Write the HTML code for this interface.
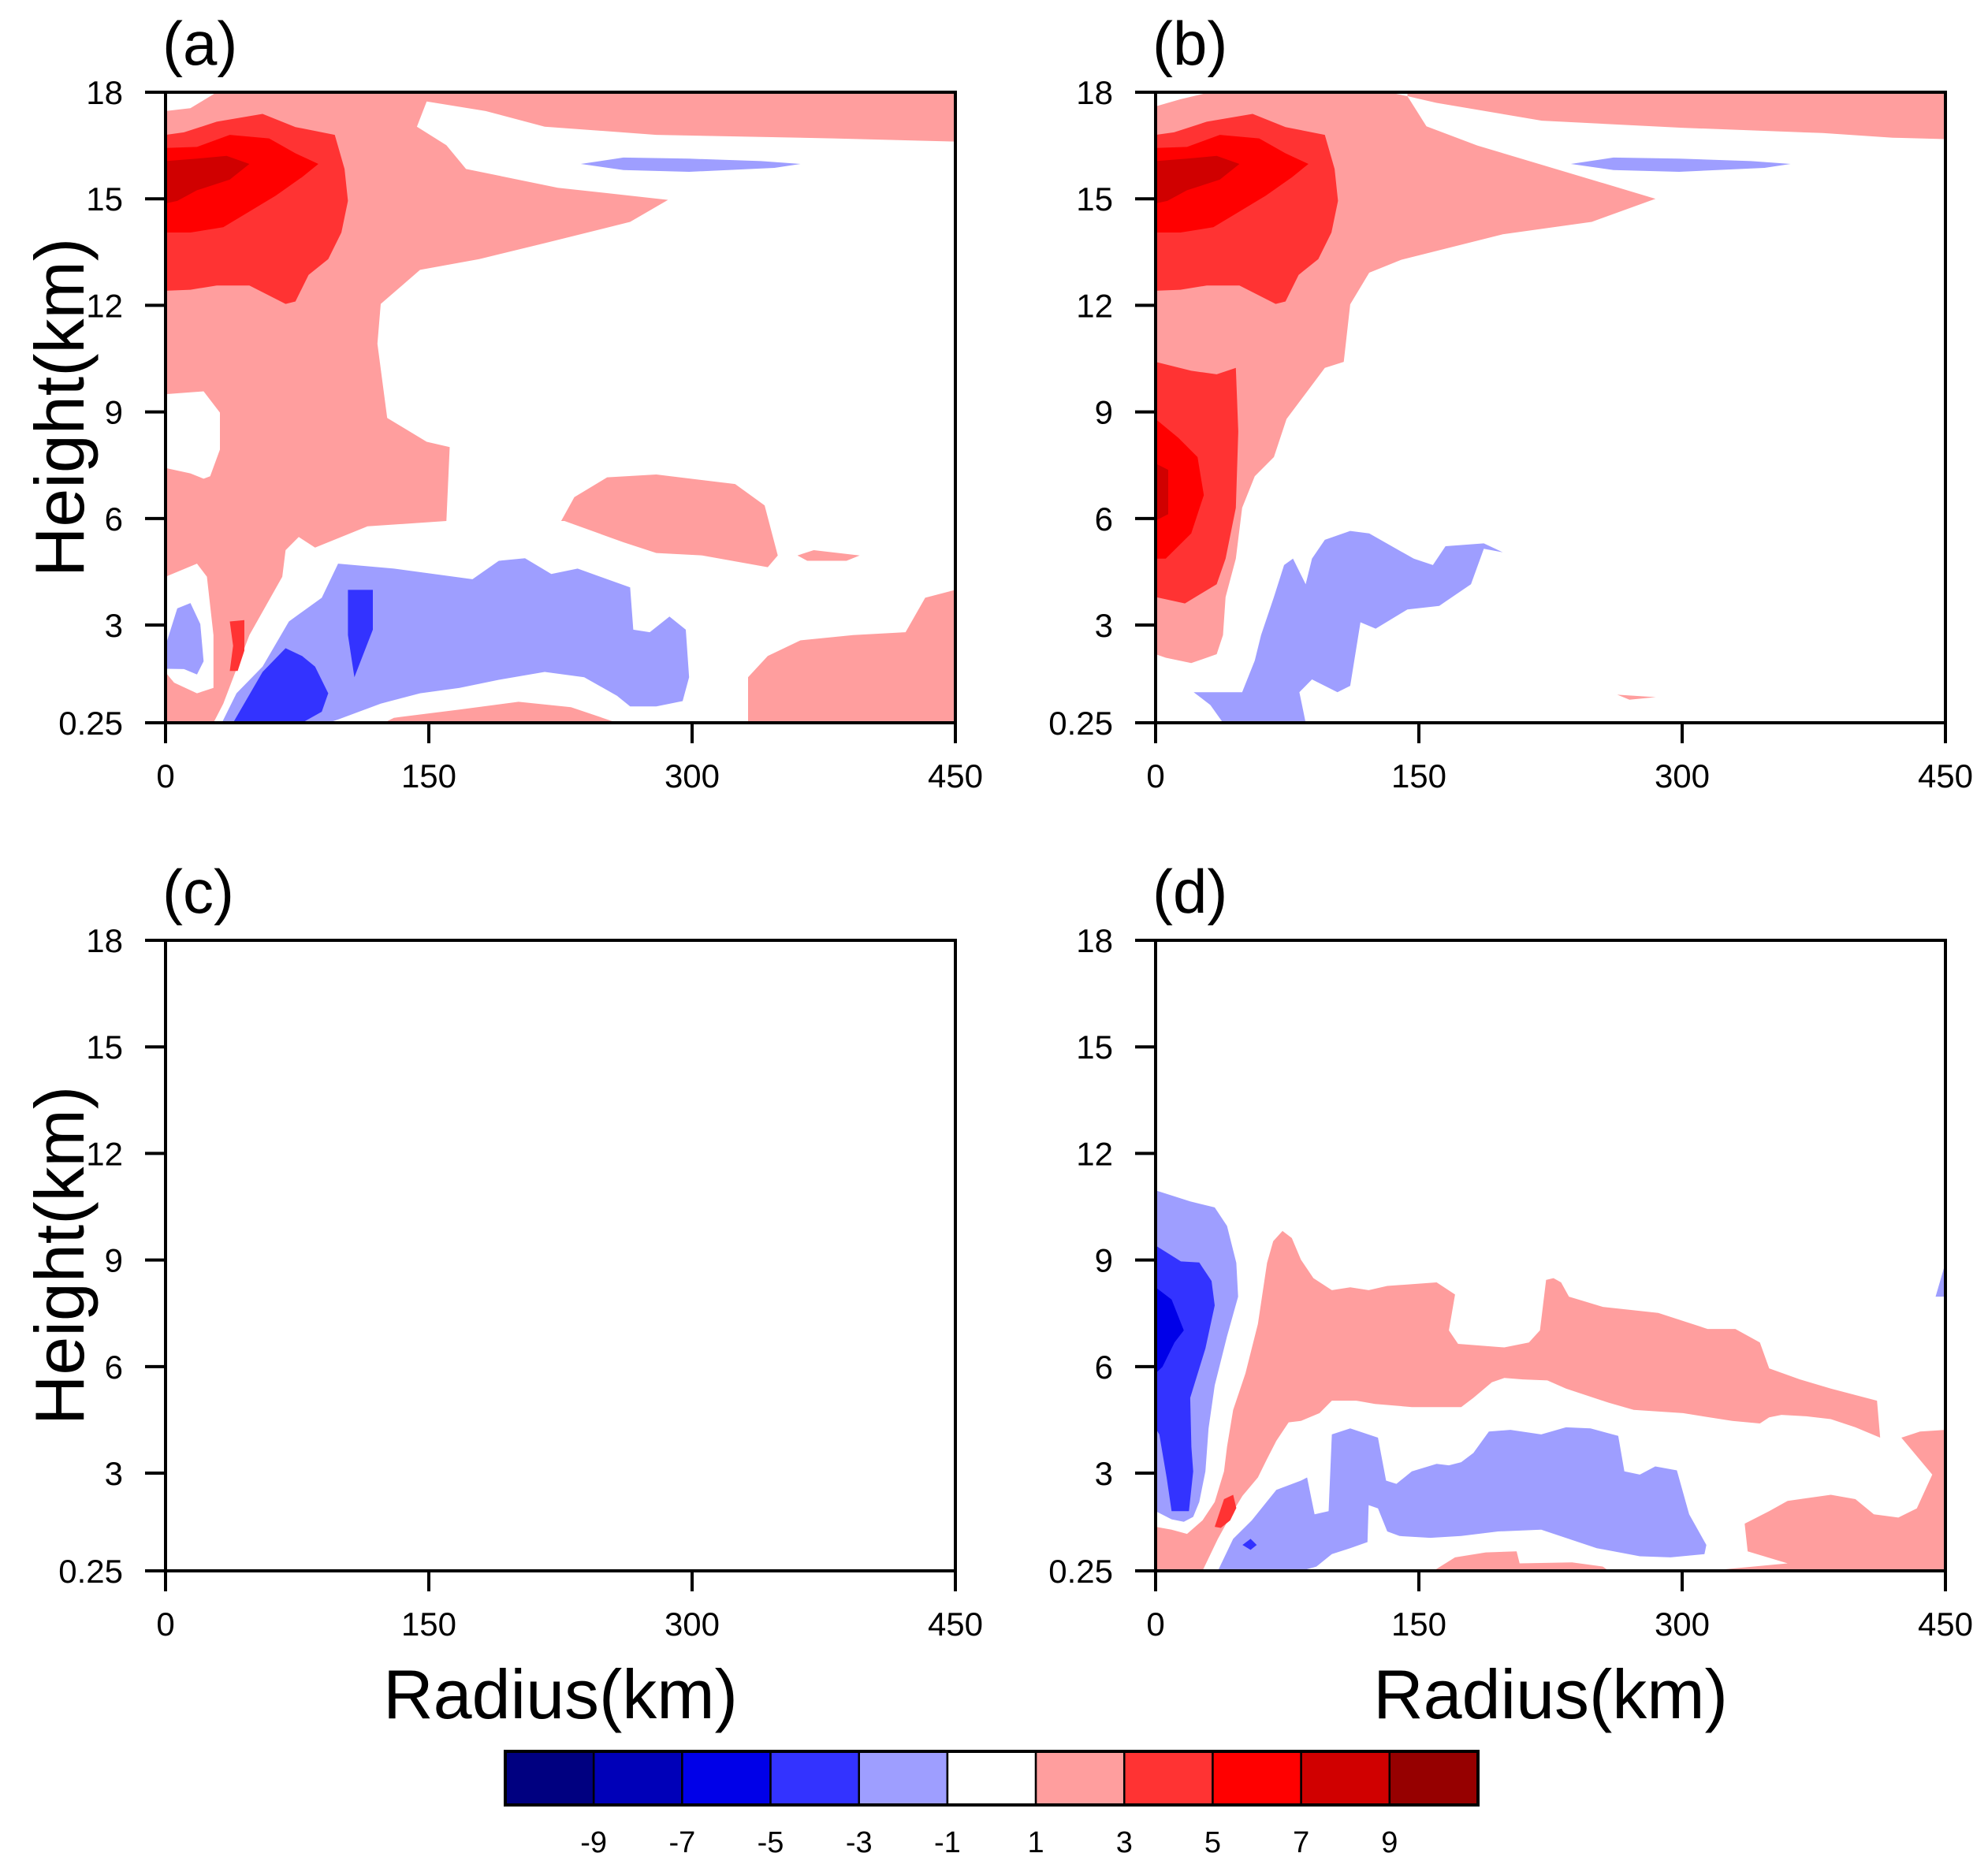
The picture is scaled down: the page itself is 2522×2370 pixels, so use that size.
<!DOCTYPE html>
<html><head><meta charset="utf-8"><style>
html,body{margin:0;padding:0;background:#fff;}
svg{display:block;font-family:"Liberation Sans",Arial,sans-serif;}
</style></head><body>
<svg id="fig" xmlns="http://www.w3.org/2000/svg" width="2522" height="2370" viewBox="0 0 2522 2370"></svg>
<script>
// ---- Data (radius km, height km) ----
const levelColors = ["#000080","#0000b8","#0000e8","#3333ff","#9e9eff","#ffffff","#ff9e9e","#ff3333","#ff0000","#d00000","#960000"];
const levelLabels = ["-9","-7","-5","-3","-1","1","3","5","7","9"];
const xTicks = [0,150,300,450];
const yTicks = [0.25,3,6,9,12,15,18];
const yTickLabels = ["0.25","3","6","9","12","15","18"];

const redTop3 = [[0,16.8],[10.5,16.87],[29.2,17.17],[55.3,17.39],[74,17.02],[96.4,16.8],[102,15.84],[103.9,14.94],[100.2,14.05],[92.7,13.3],[81.5,12.86],[74,12.11],[68.4,12.04],[47.8,12.56],[29.2,12.56],[14.2,12.44],[0,12.41]];
const redTop5 = [[0,16.43],[17.9,16.46],[36.6,16.8],[59,16.7],[74,16.28],[87.1,15.98],[77.8,15.61],[62.8,15.09],[47.8,14.64],[32.9,14.2],[14.2,14.05],[0,14.05]];
const redTop7 = [[0,16.06],[17.9,16.13],[34.8,16.21],[47.8,15.98],[36.6,15.54],[17.9,15.24],[6.7,14.94],[0,14.87]];
const blueStreak = [[236.6,15.98],[260.9,16.16],[298.3,16.13],[339.4,16.06],[361.8,15.98],[346.9,15.87],[298.3,15.76],[260.9,15.81]];

const panelA = [
 [6,[[0,17.47],[14.2,17.55],[29.2,18],[450,18],[450,16.61],[380.5,16.7],[279.6,16.8],[216,17.03],[182.4,17.47],[148.8,17.74],[143.2,17.03],[160,16.51],[171.2,15.84],[223.5,15.31],[286.3,14.97],[264.7,14.35],[216,13.75],[178.7,13.3],[145,13.0],[122.6,12.04],[120.7,10.92],[126.3,8.83],[148.8,8.16],[161.9,8.01],[160,5.93],[115.1,5.78],[85.2,5.18],[75.9,5.48],[68.4,5.11],[66.5,4.36],[47.8,2.72],[32.9,0.79],[27.3,0.25],[0,0.25]]],
 [5,[[0,4.36],[17.9,4.73],[23.6,4.36],[27.3,2.72],[27.3,1.23],[17.9,1.08],[4.9,1.38],[0,1.67]]],
 [5,[[0,9.5],[21.7,9.58],[31,8.98],[31,7.94],[25.4,7.19],[21.7,7.12],[14.2,7.27],[0,7.42]]],
 [4,[[0,2.42],[6.7,3.47],[14.2,3.62],[19.8,3.03],[21.7,1.98],[17.9,1.61],[10.5,1.76],[0,1.77]]],
 [7,[[36.6,3.1],[44.9,3.14],[44.9,2.28],[41.1,1.71],[36.6,1.71],[38.5,2.42]]],
 [6,[[124.5,0.25],[130.1,0.39],[167.5,0.62],[201.1,0.84],[231,0.69],[257.2,0.25]]],
 [4,[[32.1,0.25],[40.4,1.08],[55.3,1.83],[70.3,3.1],[89,3.77],[98.3,4.73],[130.1,4.59],[174.9,4.29],[189.9,4.81],[204.8,4.88],[219.8,4.44],[234.8,4.59],[264.7,4.06],[266.5,2.87],[275.9,2.8],[287.1,3.24],[296.4,2.87],[298.3,1.53],[294.6,0.86],[279.6,0.71],[264.7,0.71],[257.2,1.01],[238.5,1.53],[216,1.68],[189.9,1.46],[167.5,1.23],[145,1.08],[122.6,0.79],[98.3,0.34],[92.7,0.25]]],
 [3,[[38.5,0.25],[55.3,1.68],[68.4,2.35],[77.8,2.13],[85.2,1.83],[92.7,1.08],[89,0.56],[77.8,0.25]]],
 [3,[[103.9,3.99],[118.1,3.99],[118.1,2.87],[107.6,1.53],[103.9,2.72]]],
 [6,[[225.4,5.93],[232.9,6.6],[251.6,7.16],[279.6,7.24],[324.5,6.97],[341.3,6.37],[348.8,4.96],[343.1,4.63],[305.8,4.96],[279.6,5.03],[260.9,5.33],[227.3,5.93]]],
 [6,[[360,4.96],[369.3,5.11],[395.5,4.96],[388,4.81],[365.6,4.81]]],
 [6,[[331.9,0.25],[331.9,1.53],[343.1,2.13],[361.8,2.57],[391.7,2.72],[421.6,2.8],[432.8,3.77],[450,3.99],[450,0.25]]],
 [7,redTop3],[8,redTop5],[9,redTop7],[4,blueStreak]
];

const panelB = [
 [6,[[0,2.18],[5.8,2.08],[20.3,1.93],[34.8,2.18],[38.4,2.72],[39.9,3.79],[45.7,4.87],[49.3,6.3],[56.5,7.19],[67.4,7.73],[74.6,8.8],[85.5,9.52],[96.4,10.24],[107.2,10.41],[110.9,12.03],[121.7,12.92],[139.8,13.28],[197.8,14.0],[248.5,14.35],[284.8,15.0],[183.3,16.5],[154.3,17.04],[143.5,17.89],[132.6,18],[31,18],[14,17.8],[0,17.6]]],
 [6,[[143.5,18],[450,18],[450,16.68],[420,16.72],[380,16.85],[300,17.0],[220,17.2],[160,17.7],[143.5,17.89]]],
 [4,[[21.7,1.11],[31.2,0.75],[38.4,0.25],[85.5,0.25],[81.9,1.11],[89.1,1.47],[103.6,1.11],[110.9,1.29],[116.7,3.08],[125.4,2.9],[143.5,3.44],[161.6,3.54],[179.7,4.15],[187,5.15],[197.8,5.05],[187,5.3],[165.2,5.22],[158,4.69],[147.1,4.87],[121.7,5.58],[110.9,5.65],[96.4,5.4],[89.1,4.87],[85.5,4.15],[78.3,4.87],[73.2,4.69],[67.4,3.79],[60.1,2.72],[56.5,2.0],[49.3,1.11],[27.5,1.11]]],
 [7,[[0,10.41],[20.3,10.16],[34.8,10.06],[45.7,10.24],[47.1,8.45],[45.7,6.3],[39.9,4.87],[34.8,4.15],[16.7,3.61],[0,3.79]]],
 [8,[[0,8.8],[13,8.27],[23.9,7.73],[27.5,6.66],[20.3,5.58],[5.8,4.87],[0,4.87]]],
 [9,[[0,7.55],[7.2,7.37],[7.2,6.12],[0,5.94]]],
 [6,[[263,1.04],[285,0.97],[270,0.9]]],
 [7,redTop3],[8,redTop5],[9,redTop7],[4,blueStreak]
];

const panelC = [];

const panelD = [
 [6,[[0,1.49],[9.1,1.41],[17.9,1.29],[26.7,1.67],[33.7,2.19],[39,3.05],[40.7,3.74],[44.2,4.78],[51.2,5.81],[58.3,7.2],[63.5,8.92],[67,9.53],[72.3,9.82],[77.6,9.62],[82.8,9.01],[89.9,8.49],[100.4,8.15],[110.9,8.23],[121.4,8.15],[132,8.27],[160.1,8.37],[170.6,8.03],[167.1,7.02],[172.3,6.64],[198.7,6.54],[212.7,6.68],[219,7.02],[222.5,8.44],[226.7,8.49],[231,8.37],[235.5,7.97],[254.8,7.68],[286.4,7.51],[314.5,7.06],[330.3,7.06],[344.3,6.68],[349.6,5.95],[367.1,5.64],[384.7,5.38],[411,5.04],[412.8,4.0],[398.7,4.29],[384.7,4.52],[370.7,4.6],[356.6,4.64],[349.6,4.57],[344.3,4.4],[328.5,4.47],[300.5,4.69],[272.4,4.78],[258.3,4.98],[233.8,5.38],[223.2,5.61],[209.2,5.64],[198.7,5.68],[191.6,5.56],[181.1,5.12],[174.1,4.86],[146,4.86],[125,4.95],[114.4,5.04],[100.4,5.04],[93.4,4.69],[82.8,4.47],[75.8,4.43],[68.8,3.91],[63.5,3.4],[58.3,2.88],[49.5,2.36],[44.2,1.93],[35.5,1.15],[26.7,0.25],[0,0.25]]],
 [4,[[0,10.96],[19.7,10.65],[33.7,10.48],[40.7,9.96],[46,8.92],[47,7.97],[40.7,6.85],[33.7,5.47],[30.2,4.26],[28.4,3.05],[24.9,2.19],[21.4,1.77],[16.1,1.63],[9.1,1.7],[0,1.93]]],
 [3,[[0,9.41],[14.4,8.96],[24.9,8.93],[31.9,8.41],[33.7,7.72],[28.4,6.51],[19.7,5.12],[20.4,3.74],[21.4,3.05],[19,1.93],[9.1,1.93],[6.3,2.88],[2.1,4.09],[0,4.26]]],
 [2,[[0,8.23],[9.1,7.89],[16.1,7.02],[10.8,6.68],[3.9,5.99],[0,5.81]]],
 [7,[[33.7,1.49],[39,2.27],[44.2,2.39],[46,2.02],[42.5,1.67],[37.2,1.46]]],
 [4,[[35.5,0.25],[44.2,1.15],[54.8,1.67],[68.8,2.53],[82.8,2.79],[86.3,2.88],[90.6,1.84],[98.6,1.93],[100.4,4.09],[110.9,4.26],[126.7,4.0],[131.3,2.79],[137.2,2.7],[146,3.05],[160.1,3.26],[167.1,3.22],[174.1,3.31],[181.1,3.57],[189.9,4.17],[202.2,4.22],[219.7,4.09],[233.8,4.29],[247.8,4.26],[263.6,4.05],[267.1,3.05],[275.9,2.96],[284.7,3.19],[297,3.08],[304,1.84],[313.8,0.98],[312.7,0.72],[293.4,0.63],[275.9,0.66],[251.3,0.89],[219.7,1.41],[195.2,1.36],[174.1,1.23],[156.5,1.18],[139,1.23],[132,1.36],[126.7,2.01],[121.4,2.1],[120.7,1.06],[110.9,0.89],[100.4,0.72],[91.6,0.37],[82.8,0.25]]],
 [3,[[49.5,0.98],[54.1,1.15],[57.6,0.98],[54.1,0.84]]],
 [6,[[158.3,0.25],[170.6,0.63],[188.1,0.77],[205.7,0.8],[207.4,0.46],[237.3,0.49],[254.8,0.37],[258.3,0.25]]],
 [6,[[335.6,1.58],[349.6,1.93],[360.1,2.22],[384.7,2.39],[398.7,2.27],[409.2,1.84],[423.2,1.75],[433.7,2.01],[442.5,2.96],[424.9,4.0],[435.5,4.17],[450,4.22],[450,0.25],[314.5,0.25],[360.1,0.46],[337.3,0.8]]],
 [4,[[444.4,7.97],[450,8.92],[450,7.97]]]
];

// ---- Layout ----
const NS = "http://www.w3.org/2000/svg";
const svg = document.getElementById('fig');
const panels = [
 {id:'a', data:panelA, x0:210, x1:1212, y0:117, y1:917, xtitle:false, ytitle:true},
 {id:'b', data:panelB, x0:1466, x1:2468, y0:117, y1:917, xtitle:false, ytitle:false},
 {id:'c', data:panelC, x0:210, x1:1212, y0:1193, y1:1993, xtitle:true, ytitle:true},
 {id:'d', data:panelD, x0:1466, x1:2468, y0:1193, y1:1993, xtitle:true, ytitle:false}
];
function mk(tag, attrs, parent){
  const e = document.createElementNS(NS, tag);
  for (const k in attrs) e.setAttribute(k, attrs[k]);
  (parent||svg).appendChild(e);
  return e;
}
panels.forEach(p=>{
  const sx = r => p.x0 + (r-0)/(450-0)*(p.x1-p.x0);
  const sy = h => p.y1 - (h-0.25)/(18-0.25)*(p.y1-p.y0);
  const g = mk('g', {});
  
  
  const clipId = 'clip-'+p.id;
  const cp = mk('clipPath', {id:clipId}, g);
  mk('rect', {x:p.x0, y:p.y0, width:p.x1-p.x0, height:p.y1-p.y0}, cp);
  const fills = mk('g', {'clip-path':'url(#'+clipId+')'}, g);
  
  
  p.data.forEach(([lev, pts])=>{
    const poly = mk('polygon', {points: pts.map(q=>sx(q[0]).toFixed(1)+','+sy(q[1]).toFixed(1)).join(' '), fill: levelColors[lev]}, fills);
    
    
  });
  const frame = mk('rect', {x:p.x0, y:p.y0, width:p.x1-p.x0, height:p.y1-p.y0, fill:'none', stroke:'#000', 'stroke-width':4}, g);
  
  
  xTicks.forEach(t=>{
    mk('line', {x1:sx(t), x2:sx(t), y1:p.y1, y2:p.y1+26, stroke:'#000', 'stroke-width':4}, g);
    const tx = mk('text', {x:sx(t), y:p.y1+82, 'font-size':42, 'text-anchor':'middle'}, g);
    tx.textContent = t;
    
    
  });
  yTicks.forEach((t,i)=>{
    mk('line', {x1:p.x0-26, x2:p.x0, y1:sy(t), y2:sy(t), stroke:'#000', 'stroke-width':4}, g);
    const ty = mk('text', {x:p.x0-54, y:sy(t)+15, 'font-size':42, 'text-anchor':'end'}, g);
    ty.textContent = yTickLabels[i];
    
    
  });
  const lab = mk('text', {x:p.x0-4, y:p.y0-35, 'font-size':78}, g);
  lab.textContent = '('+p.id+')';
  
  
  if (p.ytitle){
    const yt = mk('text', {x:0, y:0, 'font-size':88, 'text-anchor':'middle', transform:'translate(106,'+((p.y0+p.y1)/2)+') rotate(-90)'}, g);
    yt.textContent = 'Height(km)';
    
    
  }
  if (p.xtitle){
    const xt = mk('text', {x:(p.x0+p.x1)/2, y:2180, 'font-size':88, 'text-anchor':'middle'}, g);
    xt.textContent = 'Radius(km)';
    
    
  }
});
// colorbar
const cb = mk('g', {});


const cbx0 = 641, cbx1 = 1875, cby0 = 2222, cby1 = 2290;
const bw = (cbx1-cbx0)/levelColors.length;
levelColors.forEach((c,i)=>{
  const r = mk('rect', {x:cbx0+i*bw, y:cby0, width:bw, height:cby1-cby0, fill:c, stroke:'#000', 'stroke-width':2.5}, cb);
  
  
});
mk('rect', {x:cbx0, y:cby0, width:cbx1-cbx0, height:cby1-cby0, fill:'none', stroke:'#000', 'stroke-width':4}, cb);
levelLabels.forEach((l,i)=>{
  const t = mk('text', {x:cbx0+(i+1)*bw, y:2350, 'font-size':38, 'text-anchor':'middle'}, cb);
  t.textContent = l;
  
  
});
</script>
</body></html>
